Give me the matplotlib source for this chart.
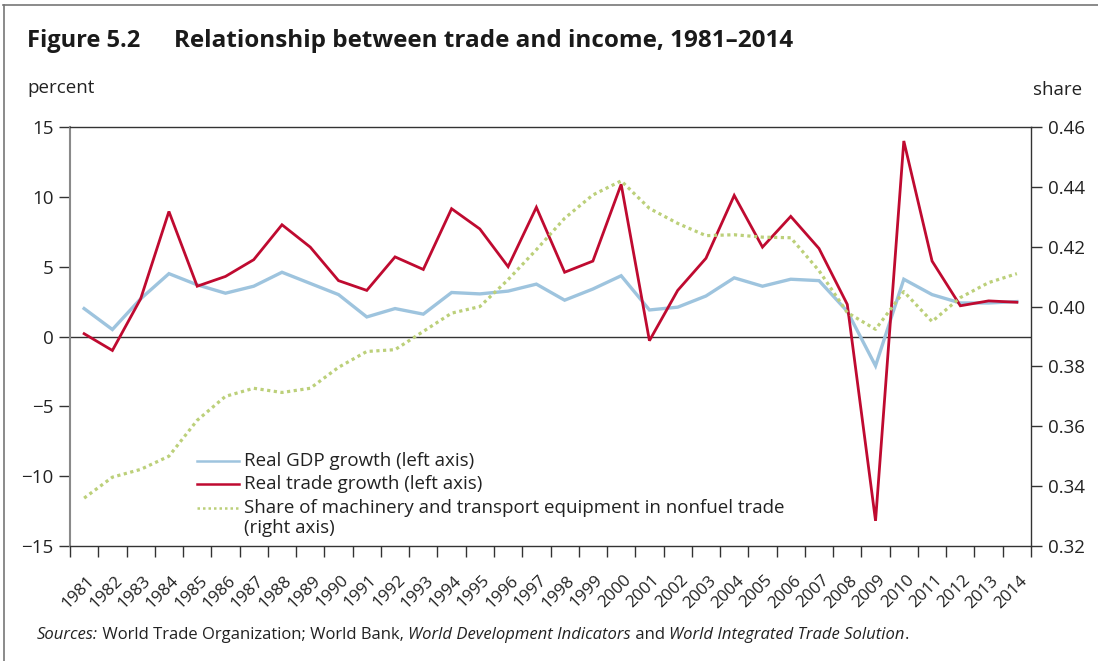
import matplotlib
matplotlib.use('Agg')
import matplotlib.pyplot as plt
from matplotlib.lines import Line2D
from matplotlib.transforms import ScaledTranslation
import numpy as np

years = list(range(1981, 2015))
gdp_growth = [2.0, 0.5, 2.7, 4.5, 3.7, 3.1, 3.6, 4.6, 3.8, 3.0, 1.4, 2.0, 1.6,
              3.15, 3.05, 3.25, 3.75, 2.6, 3.4, 4.35, 1.9, 2.1, 2.9, 4.2,
              3.6, 4.1, 4.0, 1.8, -2.1, 4.1, 3.0, 2.4, 2.4, 2.5]
trade_growth = [0.2, -1.0, 2.7, 8.95, 3.6, 4.3, 5.5, 8.0, 6.4, 4.0, 3.3, 5.7, 4.8,
                9.15, 7.7, 5.0, 9.25, 4.6, 5.4, 10.9, -0.3, 3.3, 5.6, 10.1,
                6.4, 8.6, 6.3, 2.3, -13.2, 14.0, 5.4, 2.2, 2.55, 2.45]
machinery_share = [0.336, 0.343, 0.3456, 0.350, 0.362, 0.370, 0.3727, 0.3713,
                   0.3727, 0.3797, 0.385, 0.3856, 0.3917, 0.3978, 0.400, 0.409,
                   0.419, 0.4295, 0.4373, 0.442, 0.4328, 0.4278, 0.4237, 0.424,
                   0.4232, 0.423, 0.412, 0.398, 0.3924, 0.405, 0.395, 0.403,
                   0.408, 0.411]
left_ticks = [-15, -10, -5, 0, 5, 10, 15]
right_ticks = [0.32, 0.34, 0.36, 0.38, 0.40, 0.42, 0.44, 0.46]
series_labels = ['Real GDP growth (left axis)', 'Real trade growth (left axis)',
                 'Share of machinery and transport equipment in nonfuel trade',
                 '(right axis)']

BLUE = '#9EC4DE'
RED = '#BF0A30'
GREEN = '#BCD07A'
DARK = '#333333'
TXT = '#222222'

plt.rcParams['font.family'] = ['Open Sans', 'DejaVu Sans']

W, H = 1098, 661
fig = plt.figure(figsize=(W / 100, H / 100), dpi=100)

def fx(px):
    return px / W

def fy(py):
    return 1 - py / H

ax = fig.add_axes([fx(70), fy(546), fx(1031) - fx(70), fy(127) - fy(546)])
ax2 = ax.twinx()

x = np.arange(len(years))
ax.axhline(0, color=DARK, lw=1.0, zorder=1)
ax.plot(x, gdp_growth, color=BLUE, lw=2.4, solid_joinstyle='miter', zorder=3)
ax.plot(x, trade_growth, color=RED, lw=2.0, solid_joinstyle='miter', zorder=4)
ax2.plot(x, machinery_share, color=GREEN, lw=2.3, linestyle=(0, (1, 1.1)),
         dash_capstyle='butt')

ax.set_xlim(-0.5, len(years) - 0.5)
ax.set_ylim(-15, 15)
ax2.set_ylim(0.32, 0.46)

ax.set_yticks(left_ticks)
ax.set_yticklabels([str(v).replace('-', '\u2212') for v in left_ticks])
ax2.set_yticks(right_ticks)
ax2.set_yticklabels([f'{v:.2f}' for v in right_ticks])

ax.set_xticks(x)
ax.set_xticklabels([str(y) for y in years], rotation=45, ha='right',
                   rotation_mode='anchor', fontsize=12.3)
ax.set_xticks(np.arange(-0.5, len(years), 1.0), minor=True)
ax.tick_params(axis='x', which='major', length=0, pad=19)
ax.tick_params(axis='x', which='minor', length=8, width=1, color=DARK)
ax.tick_params(axis='y', direction='out', length=8, width=1, color=DARK,
               labelsize=13.5, pad=4, labelcolor=TXT)
ax2.tick_params(axis='y', direction='out', length=8, width=1, color=DARK,
                labelsize=13.5, pad=4, labelcolor=TXT)
shift = ScaledTranslation(1.5 / 72, 0, fig.dpi_scale_trans)
for lab in ax.get_xticklabels():
    lab.set_color(TXT)
    lab.set_transform(lab.get_transform() + shift)

for s in ['top', 'bottom']:
    ax.spines[s].set_color(DARK)
    ax.spines[s].set_linewidth(1.0)
ax.spines['left'].set_color('#8a8a8a')
ax.spines['left'].set_linewidth(1.5)
ax.spines['right'].set_visible(False)
for s in ['top', 'bottom', 'left']:
    ax2.spines[s].set_visible(False)
ax2.spines['right'].set_color(DARK)
ax2.spines['right'].set_linewidth(1.0)

# Titles and axis captions
fig.text(fx(27), fy(41), 'Figure 5.2', fontsize=17, fontweight='bold',
         va='center', ha='left', color='#1a1a1a')
fig.text(fx(174), fy(41), 'Relationship between trade and income, 1981\u20132014',
         fontsize=17.5, fontweight='bold', va='center', ha='left', color='#1a1a1a')
fig.text(fx(27), fy(88), 'percent', fontsize=13.5, va='center', ha='left', color=TXT)
fig.text(fx(1082), fy(90), 'share', fontsize=13.5, va='center', ha='right', color=TXT)

# Legend (drawn manually to match the row spacing)
legend_rows = [461, 484, 508, 528]
legend_styles = [dict(color=BLUE, lw=1.8), dict(color=RED, lw=1.8),
                 dict(color=GREEN, lw=1.8, linestyle=(0, (1, 1.2))), None]
for row, style, label in zip(legend_rows, legend_styles, series_labels):
    if style is not None:
        fig.add_artist(Line2D([fx(197), fx(239)], [fy(row), fy(row)], **style))
    fig.text(fx(244), fy(row), label, fontsize=13.5, va='center', ha='left', color=TXT)

# Sources line with mixed styles
pieces = [('Sources:', 'italic'), (' World Trade Organization; World Bank, ', 'normal'),
          ('World Development Indicators', 'italic'), (' and ', 'normal'),
          ('World Integrated Trade Solution', 'italic'), ('.', 'normal')]
renderer = fig.canvas.get_renderer()
cur = 37
for txt, style in pieces:
    t = fig.text(fx(cur), fy(635), txt, fontsize=12, style=style, va='center',
                 ha='left', color=TXT)
    bb = t.get_window_extent(renderer=renderer)
    cur += bb.width

# Frame lines (top and left)
fig.add_artist(Line2D([fx(3), fx(1098)], [fy(4.5), fy(4.5)], color='#777777', lw=1.2))
fig.add_artist(Line2D([fx(3.5), fx(3.5)], [fy(4.5), fy(661)], color='#777777', lw=1.2))

fig.savefig('out.png', dpi=100)
